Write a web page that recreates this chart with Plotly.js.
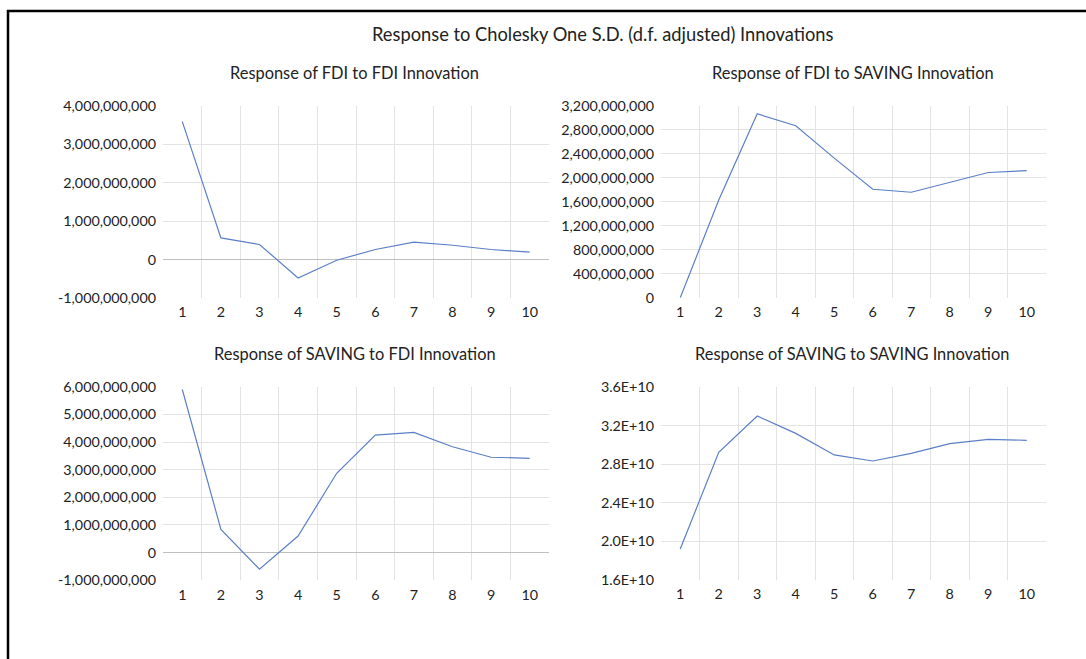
<!DOCTYPE html>
<html>
<head>
<meta charset="utf-8">
<script src="https://cdn.plot.ly/plotly-3.0.1.min.js"></script>
<style>
  html, body { margin: 0; padding: 0; background: #ffffff; }
  #chart { width: 1086px; height: 659px; }
</style>
</head>
<body>
<div id="chart"></div>
<script>
// ---- data ----
const periods = [1, 2, 3, 4, 5, 6, 7, 8, 9, 10];

const fdiToFdi       = [3.58e9, 0.56e9, 0.39e9, -0.48e9, -0.02e9, 0.26e9, 0.45e9, 0.37e9, 0.26e9, 0.19e9];
const fdiToSaving    = [0.0e9, 1.63e9, 3.07e9, 2.87e9, 2.33e9, 1.81e9, 1.76e9, 1.92e9, 2.09e9, 2.12e9];
const savingToFdi    = [5.9e9, 0.84e9, -0.6e9, 0.6e9, 2.87e9, 4.25e9, 4.35e9, 3.83e9, 3.45e9, 3.41e9];
const savingToSaving = [1.922e10, 2.925e10, 3.302e10, 3.122e10, 2.898e10, 2.835e10, 2.915e10, 3.015e10, 3.06e10, 3.05e10];

const mainTitle = 'Response to Cholesky One S.D. (d.f. adjusted) Innovations';
const panelTitles = [
  'Response of FDI to FDI Innovation',
  'Response of FDI to SAVING Innovation',
  'Response of SAVING to FDI Innovation',
  'Response of SAVING to SAVING Innovation'
];

const ticksTL  = [-1e9, 0, 1e9, 2e9, 3e9, 4e9];
const labelsTL = ['-1,000,000,000', '0', '1,000,000,000', '2,000,000,000', '3,000,000,000', '4,000,000,000'];
const ticksTR  = [0, 4e8, 8e8, 1.2e9, 1.6e9, 2e9, 2.4e9, 2.8e9, 3.2e9];
const labelsTR = ['0', '400,000,000', '800,000,000', '1,200,000,000', '1,600,000,000', '2,000,000,000', '2,400,000,000', '2,800,000,000', '3,200,000,000'];
const ticksBL  = [-1e9, 0, 1e9, 2e9, 3e9, 4e9, 5e9, 6e9];
const labelsBL = ['-1,000,000,000', '0', '1,000,000,000', '2,000,000,000', '3,000,000,000', '4,000,000,000', '5,000,000,000', '6,000,000,000'];
const ticksBR  = [1.6e10, 2.0e10, 2.4e10, 2.8e10, 3.2e10, 3.6e10];
const labelsBR = ['1.6E+10', '2.0E+10', '2.4E+10', '2.8E+10', '3.2E+10', '3.6E+10'];

// ---- layout helpers ----
const W = 1086, H = 659;
const px = v => v / W;
const py = v => 1 - v / H;
const FONT = 'Lato, "Open Sans", sans-serif';
const TXT = '#222222';
const GRID = '#e3e3e3';
const LINE = '#5b7fc7';

const between = periods.slice(1).map(p => p - 0.5);

function xAxis(domain, anchor) {
  return {
    domain: domain, anchor: anchor,
    range: [periods[0] - 0.5, periods[periods.length - 1] + 0.5],
    tickmode: 'array', tickvals: periods, ticktext: periods.map(String),
    showgrid: false, zeroline: false, showline: false, ticks: '',
    ticklabelstandoff: 4,
    tickfont: { family: FONT, size: 14.3, color: TXT },
    minor: { tickmode: 'array', tickvals: between, showgrid: true, gridcolor: GRID, gridwidth: 1, ticks: '' },
    fixedrange: true
  };
}
function yAxis(domain, anchor, ticks, labels, zero) {
  return {
    domain: domain, anchor: anchor,
    range: [ticks[0], ticks[ticks.length - 1]],
    tickmode: 'array', tickvals: ticks, ticktext: labels,
    showgrid: false, showline: false, ticks: '',
    zeroline: zero, zerolinecolor: '#bfbfbf', zerolinewidth: 1,
    ticklabelstandoff: 6,
    tickfont: { family: FONT, size: 14.3, color: TXT },
    minor: { tickmode: 'array', tickvals: ticks.slice(1, -1).filter(t => !(zero && t === 0)), showgrid: true, gridcolor: GRID, gridwidth: 1, ticks: '' },
    fixedrange: true
  };
}

const xL = [px(163), px(549)];
const xR = [px(661), px(1046)];

const traces = [
  { x: periods, y: fdiToFdi, xaxis: 'x', yaxis: 'y' },
  { x: periods, y: fdiToSaving, xaxis: 'x2', yaxis: 'y2' },
  { x: periods, y: savingToFdi, xaxis: 'x3', yaxis: 'y3' },
  { x: periods, y: savingToSaving, xaxis: 'x4', yaxis: 'y4' }
].map(t => Object.assign(t, { type: 'scatter', mode: 'lines', line: { color: LINE, width: 1.2 }, hoverinfo: 'skip', showlegend: false }));

function titleAnn(text, x, y, size) {
  return { text: text, x: px(x), y: py(y), xref: 'paper', yref: 'paper', xanchor: 'center', yanchor: 'middle',
           showarrow: false, font: { family: FONT, size: size, color: TXT } };
}

const layout = {
  width: W, height: H,
  margin: { l: 0, r: 0, t: 0, b: 0 },
  paper_bgcolor: '#ffffff', plot_bgcolor: 'rgba(0,0,0,0)',
  showlegend: false,
  xaxis:  xAxis(xL, 'y'),
  yaxis:  yAxis([py(298), py(105.5)], 'x', ticksTL, labelsTL, true),
  xaxis2: xAxis(xR, 'y2'),
  yaxis2: yAxis([py(297.7), py(106)], 'x2', ticksTR, labelsTR, false),
  xaxis3: xAxis(xL, 'y3'),
  yaxis3: yAxis([py(580.3), py(386.7)], 'x3', ticksBL, labelsBL, true),
  xaxis4: xAxis(xR, 'y4'),
  yaxis4: yAxis([py(580), py(387.3)], 'x4', ticksBR, labelsBR, false),
  annotations: [
    titleAnn(mainTitle, 603, 34, 18.3),
    titleAnn(panelTitles[0], 354, 72, 16.4),
    titleAnn(panelTitles[1], 852.5, 72, 16.4),
    titleAnn(panelTitles[2], 354.5, 353, 16.4),
    titleAnn(panelTitles[3], 852, 353, 16.4)
  ],
  shapes: [
    { type: 'line', xref: 'paper', yref: 'paper', x0: px(8), x1: px(8), y0: py(10), y1: py(670), line: { color: '#000000', width: 2.5 } },
    { type: 'line', xref: 'paper', yref: 'paper', x0: px(7), x1: px(1100), y0: py(11), y1: py(11), line: { color: '#000000', width: 2.5 } }
  ]
};

Plotly.newPlot('chart', traces, layout, { staticPlot: true, displayModeBar: false });
</script>
</body>
</html>
